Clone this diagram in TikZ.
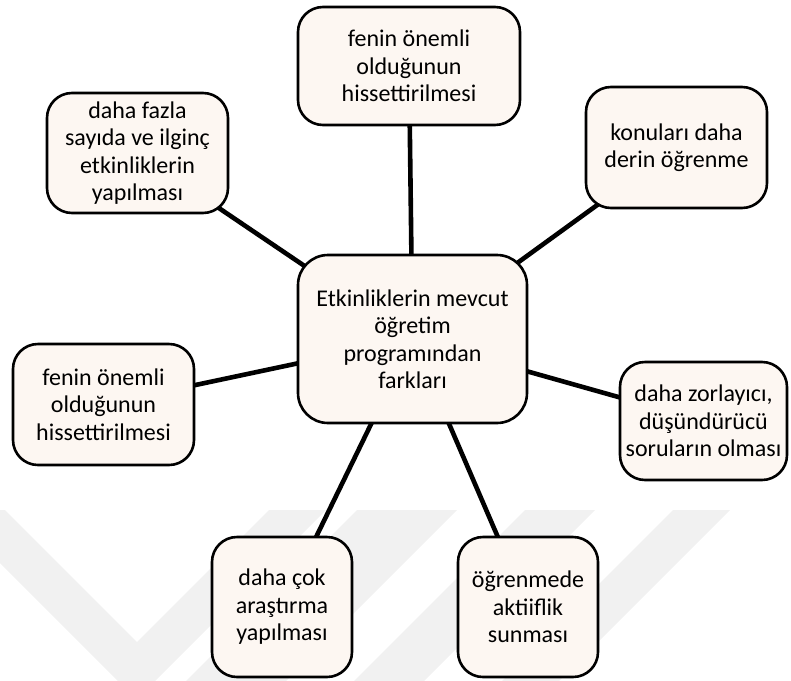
\documentclass[tikz,border=0pt]{standalone}
\usepackage{fontspec}
\setmainfont{Carlito}
\pgfdeclarelayer{background}
\pgfsetlayers{background,main}
\definecolor{boxfill}{RGB}{253,247,242}
\definecolor{markgray}{RGB}{241,241,241}
\tikzset{
  idea/.style={draw=black, line width=2.6pt, fill=boxfill, rounded corners=25pt,
    align=center, inner sep=0pt, font=\fontsize{24}{27.5}\selectfont},
  hub/.style={idea, rounded corners=30pt},
  link/.style={draw=black, line width=4.6pt},
  wmband/.style={fill=markgray, draw=none}
}
\begin{document}
\begin{tikzpicture}[x=1pt, y=-1pt]
  \useasboundingbox (0,0) rectangle (791,680);

  % central node
  \node[hub, minimum width=229pt, minimum height=168pt] (c) at (412.5,339)
    {Etkinliklerin mevcut\\öğretim\\programından\\farkları};

  % surrounding nodes
  \node[idea, minimum width=222pt, minimum height=118pt] (t) at (409,66)
    {fenin önemli\\olduğunun\\hissettirilmesi};
  \node[idea, minimum width=181pt, minimum height=120pt] (tl) at (137.5,153)
    {daha fazla\\sayıda ve ilginç\\etkinliklerin\\yapılması};
  \node[idea, minimum width=181pt, minimum height=121pt] (tr) at (676.5,147.5)
    {konuları daha\\derin öğrenme};
  \node[idea, minimum width=181pt, minimum height=121pt] (l) at (103.5,404.5)
    {fenin önemli\\olduğunun\\hissettirilmesi};
  \node[idea, minimum width=167pt, minimum height=118pt] (r) at (703.5,421)
    {daha zorlayıcı,\\düşündürücü\\soruların olması};
  \node[idea, minimum width=140pt, minimum height=140pt] (bl) at (282,607)
    {daha çok\\araştırma\\yapılması};
  \node[idea, minimum width=140pt, minimum height=140pt] (br) at (528,607)
    {öğrenmede\\aktiiflik\\sunması};

  \begin{pgfonlayer}{background}
    % faint chevron watermark
    \begin{scope}
      \clip (0,510) rectangle (791,680);
      \fill[wmband] (0,505) -- (137,642) -- (269,510) -- (326,510)
        -- (136.5,699.5) -- (0,563) -- cycle;
      \fill[wmband] (357,510) -- (457,510) -- (267,700) -- (167,700) -- cycle;
      \fill[wmband] (525,510) -- (595,510) -- (405,700) -- (335,700) -- cycle;
      \fill[wmband] (673,510) -- (730,510) -- (540,700) -- (483,700) -- cycle;
    \end{scope}
    % spokes, hidden under the node fills
    \foreach \n in {t,tl,tr,l,r,bl,br}
      \draw[link] (c.center) -- (\n.center);
  \end{pgfonlayer}
\end{tikzpicture}
\end{document}
